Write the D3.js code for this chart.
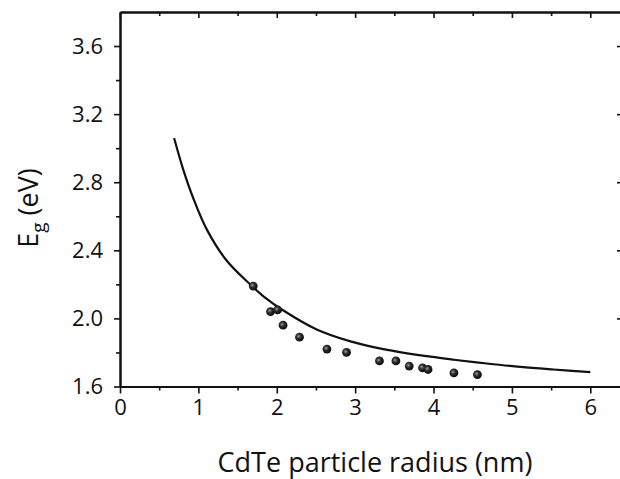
<!DOCTYPE html>
<html>
<head>
<meta charset="utf-8">
<script src="https://cdn.jsdelivr.net/npm/d3@7"></script>
<style>
body { margin: 0; background: #fff; }
text { font-family: "Open Sans", sans-serif; fill: #111; }
</style>
</head>
<body>
<div id="chart"></div>
<script>
// measured points (radius nm, Eg eV)
var pointRadius = [1.70, 1.92, 2.01, 2.08, 2.29, 2.64, 2.89, 3.31, 3.52, 3.69, 3.86, 3.93, 4.26, 4.56];
var pointEnergy = [2.19, 2.04, 2.05, 1.96, 1.89, 1.82, 1.80, 1.75, 1.75, 1.72, 1.71, 1.70, 1.68, 1.67];

// calculated curve
var curveRadius = [0.69, 0.81, 0.94, 1.11, 1.36, 1.66, 1.83, 2.09, 2.51, 2.94, 3.36, 3.96, 4.26, 4.68, 5.11, 5.53, 6.00];
var curveEnergy = [3.06, 2.87, 2.70, 2.52, 2.34, 2.20, 2.13, 2.045, 1.935, 1.865, 1.82, 1.775, 1.757, 1.735, 1.715, 1.70, 1.685];

var xTicks = [0, 1, 2, 3, 4, 5, 6];
var yTicks = [1.6, 2.0, 2.4, 2.8, 3.2, 3.6];
var xMinorTicks = [0.5, 1.5, 2.5, 3.5, 4.5, 5.5];
var yMinorTicks = [1.8, 2.2, 2.6, 3.0, 3.4];

function drawChart() {
	var width = 620, height = 479;
	var plotLeft = 120, plotRight = 624, plotTop = 12, plotBottom = 386.5;

	var svg = d3.select("#chart").append("svg")
		.attr("width", width).attr("height", height);

	var x = d3.scaleLinear().domain([0, 6.43]).range([plotLeft, plotRight]);
	var y = d3.scaleLinear().domain([1.6, 3.8]).range([plotBottom, plotTop]);

	function drawAxis(axis, tx, ty) {
		var g = svg.append("g").attr("transform", "translate(" + tx + "," + ty + ")").call(axis);
		g.select(".domain").attr("stroke", "#111").attr("stroke-width", 2);
		g.selectAll(".tick line").attr("stroke", "#111").attr("stroke-width", 1.6);
		g.selectAll(".tick text").attr("fill", "#111").attr("font-family", null).attr("font-size", 22);
		return g;
	}

	// bottom
	drawAxis(d3.axisBottom(x).tickValues(xTicks).tickFormat(d3.format("d"))
		.tickSize(7).tickPadding(6).tickSizeOuter(0), 0, plotBottom);
	drawAxis(d3.axisBottom(x).tickValues(xMinorTicks).tickFormat("").tickSize(4).tickSizeOuter(0), 0, plotBottom);

	// top (ticks inside)
	drawAxis(d3.axisBottom(x).tickValues(xTicks).tickFormat("").tickSize(6).tickSizeOuter(0), 0, plotTop);
	drawAxis(d3.axisBottom(x).tickValues(xMinorTicks).tickFormat("").tickSize(4).tickSizeOuter(0), 0, plotTop);

	// left
	drawAxis(d3.axisLeft(y).tickValues(yTicks).tickFormat(d3.format(".1f"))
		.tickSize(6).tickPadding(11).tickSizeOuter(0), plotLeft, 0);
	drawAxis(d3.axisLeft(y).tickValues(yMinorTicks).tickFormat("").tickSize(4).tickSizeOuter(0), plotLeft, 0);

	// right (ticks inside, mostly cropped)
	drawAxis(d3.axisLeft(y).tickValues(yTicks).tickFormat("").tickSize(7).tickSizeOuter(0), plotRight, 0);

	// curve
	var curveData = curveRadius.map(function (r, i) { return [r, curveEnergy[i]]; });
	svg.append("path")
		.datum(curveData)
		.attr("fill", "none")
		.attr("stroke", "#111")
		.attr("stroke-width", 2.2)
		.attr("d", d3.line().x(function (d) { return x(d[0]); }).y(function (d) { return y(d[1]); })
			.curve(d3.curveCatmullRom));

	// shaded dots
	var grad = svg.append("defs").append("radialGradient").attr("id", "ball")
		.attr("cx", "40%").attr("cy", "40%").attr("r", "60%");
	grad.append("stop").attr("offset", "0%").attr("stop-color", "#9a9a9a");
	grad.append("stop").attr("offset", "45%").attr("stop-color", "#2a2a2a");
	grad.append("stop").attr("offset", "100%").attr("stop-color", "#0c0c0c");

	var pointData = pointRadius.map(function (r, i) { return [r, pointEnergy[i]]; });
	svg.append("g").selectAll("circle").data(pointData).enter().append("circle")
		.attr("cx", function (d) { return x(d[0]); })
		.attr("cy", function (d) { return y(d[1]); })
		.attr("r", 4.4)
		.attr("fill", "url(#ball)");

	// axis titles
	svg.append("text")
		.attr("x", 375).attr("y", 472)
		.attr("text-anchor", "middle")
		.attr("font-size", 27)
		.text("CdTe particle radius (nm)");

	var yl = svg.append("text")
		.attr("transform", "translate(38,208) rotate(-90)")
		.attr("text-anchor", "middle")
		.attr("font-size", 27);
	yl.append("tspan").text("E");
	yl.append("tspan").attr("font-size", 19).attr("dy", 7).text("g");
	yl.append("tspan").attr("dy", -7).text(" (eV)");
}

drawChart();
</script>
</body>
</html>
